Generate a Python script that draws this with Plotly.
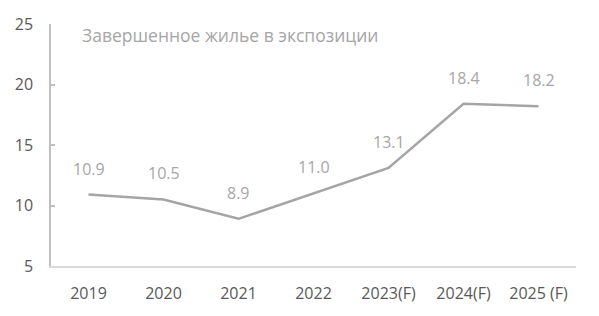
import plotly.graph_objects as go

categories = ["2019", "2020", "2021", "2022", "2023(F)", "2024(F)", "2025 (F)"]
values = [10.9, 10.5, 8.9, 11.0, 13.1, 18.4, 18.2]
labels = ["10.9", "10.5", "8.9", "11.0", "13.1", "18.4", "18.2"]
title_text = "Завершенное жилье в экспозиции"

FONT = "Open Sans, Liberation Sans, Arial, sans-serif"

fig = go.Figure()
fig.add_trace(go.Scatter(
    x=categories, y=values, mode="lines",
    line=dict(color="#a5a5a5", width=2.5),
    hoverinfo="skip",
))
for i, (v, t) in enumerate(zip(values, labels)):
    fig.add_annotation(x=i, y=v, text=t, showarrow=False, yshift=26,
                       font=dict(family=FONT, size=16, color="#a6a6a6"))

fig.add_annotation(xref="paper", yref="paper", x=0.055, y=0.955, xanchor="left", yanchor="middle",
                   text=title_text, showarrow=False,
                   font=dict(family=FONT, size=17.5, color="#a6a6a6"))

fig.update_layout(
    width=599, height=316,
    margin=dict(l=51, r=23, t=24, b=48),
    paper_bgcolor="white", plot_bgcolor="white",
    showlegend=False,
    font=dict(family=FONT, size=16, color="#595959"),
)
fig.update_xaxes(
    type="category", showgrid=False, showline=True, linecolor="#d9d9d9", linewidth=1.5,
    ticks="", ticklabelstandoff=12, tickfont=dict(size=16, color="#595959"),
    range=[-0.5, 6.5], zeroline=False,
)
fig.update_yaxes(
    range=[5, 25], dtick=5, showgrid=False, showline=True, linecolor="#bfbfbf", linewidth=1.5,
    ticks="inside", ticklen=4, tickcolor="#bfbfbf", tickwidth=1.5,
    ticklabelstandoff=13, tickfont=dict(size=16, color="#595959"), zeroline=False,
)

fig.write_html("out.html")
